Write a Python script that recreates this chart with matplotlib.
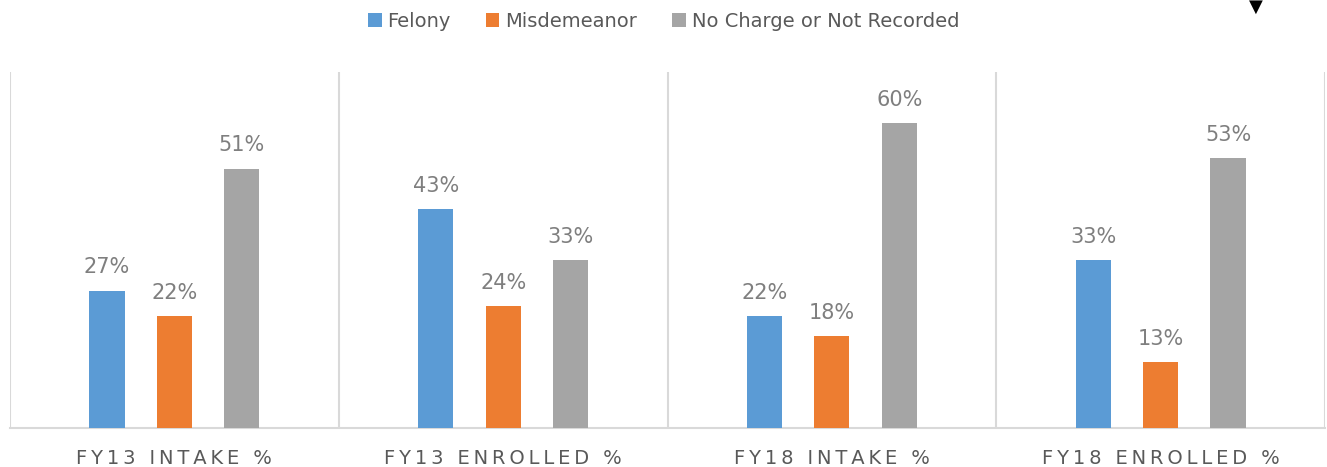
import matplotlib.pyplot as plt
import numpy as np

categories = ["FY13 INTAKE %", "FY13 ENROLLED %", "FY18 INTAKE %", "FY18 ENROLLED %"]
series_names = ["Felony", "Misdemeanor", "No Charge or Not Recorded"]
felony = [27, 43, 22, 33]
misdemeanor = [22, 24, 18, 13]
no_charge = [51, 33, 60, 53]

colors = ["#5B9BD5", "#ED7D31", "#A5A5A5"]
grid_color = "#D9D9D9"
text_color = "#595959"
label_color = "#7F7F7F"

fig = plt.figure(figsize=(13.27, 4.67), dpi=100)
ax = fig.add_axes([10 / 1327, (467 - 428) / 467, 1315 / 1327, 356 / 467])

x = np.arange(len(categories))
width = 0.107
offset = 0.205

for i, (vals, name) in enumerate(zip([felony, misdemeanor, no_charge], series_names)):
    pos = x + (i - 1) * offset
    ax.bar(pos, vals, width=width, color=colors[i], label=name, zorder=3)
    for px, v in zip(pos, vals):
        ax.text(px, v + 2.6, f"{v}%", ha="center", va="bottom",
                fontsize=15, color=label_color)

ax.set_xlim(-0.5, len(categories) - 0.5)
ax.set_ylim(0, 70)
ax.set_yticks([])

# category separators
for b in np.arange(-0.5, len(categories), 1.0):
    ax.axvline(b, color=grid_color, lw=1.5, zorder=1)

for s in ["top", "left", "right"]:
    ax.spines[s].set_visible(False)
ax.spines["bottom"].set_color(grid_color)
ax.spines["bottom"].set_linewidth(1.5)

# spaced-out caps for the category names
spaced = ["\u2009".join(c) for c in categories]
ax.set_xticks(x)
ax.set_xticklabels(spaced, fontsize=14, color=text_color)
ax.tick_params(axis="x", length=0, pad=15)

fig.legend(loc="upper center", bbox_to_anchor=(0.5, 1.0), ncol=3, frameon=False,
           fontsize=14, labelcolor=text_color, handlelength=0.7, handleheight=0.7,
           handletextpad=0.3, columnspacing=1.8, borderaxespad=0.2)

fig.text(1256 / 1327, 1.005, "\u25BC", ha="center", va="top", fontsize=13, color="black")

fig.savefig("out.png", dpi=100)
